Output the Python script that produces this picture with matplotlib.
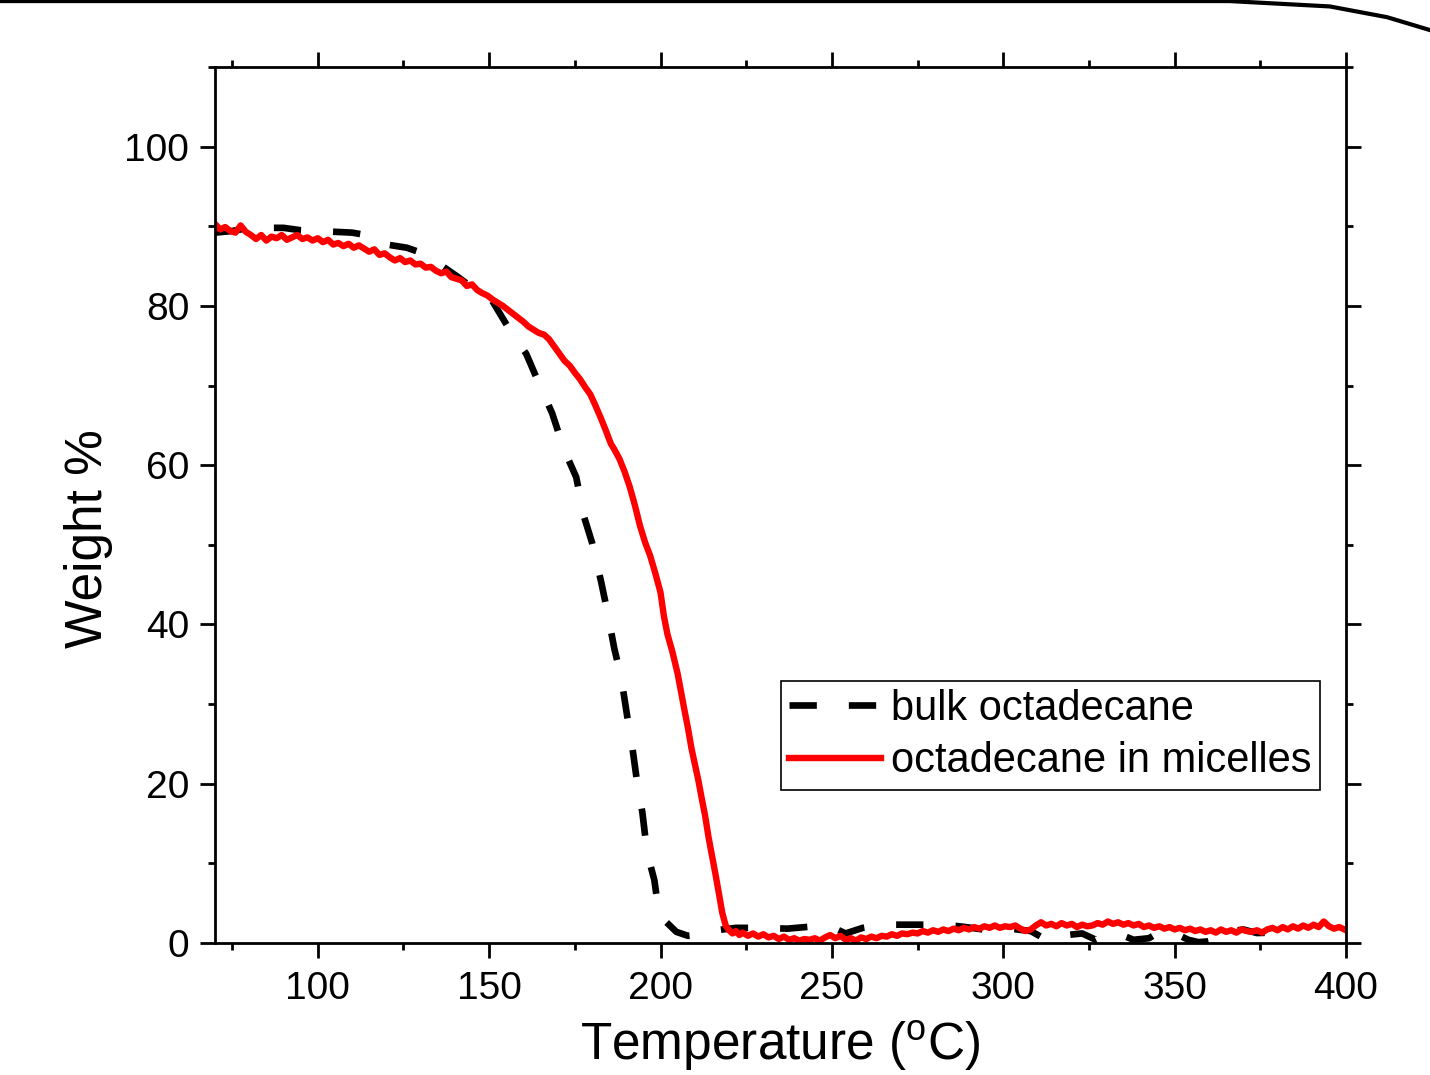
import numpy as np
import matplotlib
matplotlib.use("Agg")
import matplotlib.pyplot as plt
from matplotlib.lines import Line2D

plt.rcParams['font.family'] = ['Liberation Sans', 'DejaVu Sans']
plt.rcParams['mathtext.fontset'] = 'custom'
plt.rcParams['mathtext.rm'] = 'Liberation Sans'

# bulk octadecane (dashed black)
bulk_T = [70, 75, 80, 90, 95, 100, 105, 110, 114, 118.7, 126, 130, 136, 141,
          146, 150.8, 156.4, 160.8, 165, 168.4, 171.9, 175.4, 177.7, 180,
          182.7, 184.4, 186.5, 188.5, 190.3, 191.7, 193.2, 194.7, 196.1, 198.2,
          199.6, 204.6, 208, 210.7, 216.3, 222, 230, 237, 245, 250, 254, 259,
          265, 283, 289, 294, 300, 308, 313, 318.5, 323, 327, 330, 334, 338,
          342.5, 346, 349.6, 354, 357, 359.6, 364, 367, 370, 374, 378, 380, 382]
bulk_W = [89.2, 89.4, 89.8, 89.8, 89.5, 89.4, 89.3, 89.2, 88.9, 87.8, 87.3,
          86.7, 85.1, 83.6, 82.0, 80.7, 76.7, 74.0, 69.8, 66.5, 61.9, 58.5,
          53.5, 50.3, 45.3, 41.8, 37.0, 33.4, 28.4, 24.8, 20.1, 16.4, 11.3,
          7.9, 3.5, 1.4, 0.9, 1.0, 1.6, 1.9, 1.9, 1.8, 2.1, 2.0, 1.2, 1.9,
          2.3, 2.3, 2.0, 1.7, 1.9, 1.5, 0.3, 1.0, 1.2, 0.4, 1.0, 1.1, 0.4,
          0.6, 1.5, 1.3, 0.4, 0.1, 0.2, 0.6, 1.5, 1.7, 1.25, 1.3, 0.8, 0.2]

# octadecane in micelles (solid red)
mic_T = [70, 71.5, 73, 74.5, 76, 77.5, 79, 80.5, 82, 83.5, 85, 86.5, 88, 89.5,
         91, 92.5, 94, 95.5, 97, 98.5, 100, 101.5, 103, 104.5, 106, 107.5, 109,
         110.5, 112, 113.5, 115, 116.5, 118, 119.5, 121, 122.5, 124, 125.5,
         127, 128.5, 130, 131.5, 133, 134.5, 136, 137.5, 139, 140.5, 142,
         143.5, 145, 146.5, 148, 149.5, 151, 152.5, 154, 155.5, 157, 158.5,
         160, 161.5, 163, 164.5, 166, 167.5, 169, 170.5, 172, 173.5, 175,
         176.5, 178, 179.5, 181, 182.5, 184, 185.5, 186.5, 188, 189.5, 191,
         192.5, 194, 195.5, 197, 198.5, 200, 201, 202, 203.5, 205, 206, 207,
         208, 209, 210, 211, 212, 213, 214, 215, 216, 217, 218, 219, 220, 221,
         222, 223, 224, 225.5, 227, 228.5, 230, 231.5, 233, 234.5, 236, 237.5,
         239, 240.5, 242, 243.5, 245, 246.5, 248, 249.5, 251, 252.5, 254,
         255.5, 257, 258.5, 260, 261.5, 263, 264.5, 266, 267.5, 269, 270.5,
         272, 273.5, 275, 276.5, 278, 279.5, 281, 282.5, 284, 285.5, 287,
         288.5, 290, 291.5, 293, 294.5, 296, 297.5, 299, 300.5, 302, 303.5,
         305, 306.5, 308, 309.5, 311, 312.5, 314, 315.5, 317, 318.5, 320,
         321.5, 323, 324.5, 326, 327.5, 329, 330.5, 332, 333.5, 335, 336.5,
         338, 339.5, 341, 342.5, 344, 345.5, 347, 348.5, 350, 351.5, 353,
         354.5, 356, 357.5, 359, 360.5, 362, 363.5, 365, 366.5, 368, 369.5,
         371, 372.5, 374, 375.5, 377, 378.5, 380, 381.5, 383, 384.5, 386,
         387.5, 389, 390.5, 392, 393.5, 395, 396.5, 398, 399.5]
mic_W = [90.3, 89.6, 89.9, 89.4, 89.2, 90.1, 89.3, 88.9, 88.4, 88.9, 88.2,
         88.7, 88.5, 88.9, 88.3, 88.6, 88.9, 88.4, 88.6, 88.2, 88.5, 88.0,
         88.3, 87.7, 87.9, 87.5, 87.8, 87.3, 87.6, 87.2, 86.8, 87.1, 86.4,
         86.6, 86.1, 85.7, 86.0, 85.5, 85.7, 85.2, 85.3, 84.8, 84.9, 84.4,
         84.1, 84.3, 83.6, 83.4, 83.2, 82.5, 82.7, 82.0, 81.6, 81.3, 80.8,
         80.4, 80.0, 79.5, 79.0, 78.5, 78.0, 77.4, 77.0, 76.6, 76.4, 75.8,
         74.9, 74.0, 73.1, 72.5, 71.6, 70.8, 69.8, 68.9, 67.5, 66.0, 64.4,
         62.7, 62.0, 60.8, 59.2, 57.3, 55.0, 52.4, 50.3, 48.6, 46.4, 44.0,
         41.0, 38.8, 36.5, 33.8, 31.5, 29.2, 27.0, 24.5, 22.5, 20.5, 18.2,
         16.0, 13.3, 11.0, 8.7, 6.3, 3.8, 2.2, 1.6, 1.2, 1.5, 1.0, 1.3, 0.9,
         1.2, 0.8, 1.1, 0.7, 0.9, 0.5, 0.8, 0.4, 0.6, 0.3, 0.5, 0.4, 0.6,
         0.3, 0.7, 1.0, 0.6, 0.9, 0.4, 0.6, 0.3, 0.7, 0.5, 0.8, 0.6, 0.9,
         0.8, 1.1, 0.9, 1.2, 1.1, 1.3, 1.2, 1.5, 1.3, 1.6, 1.4, 1.7, 1.5,
         1.8, 1.6, 1.9, 1.7, 2.0, 1.8, 2.1, 1.9, 2.2, 1.9, 2.1, 2.0, 2.2,
         1.8, 1.5, 1.7, 2.2, 2.6, 2.2, 2.4, 2.1, 2.5, 2.2, 2.4, 2.0, 2.3,
         2.1, 2.2, 2.5, 2.3, 2.7, 2.4, 2.6, 2.3, 2.5, 2.2, 2.4, 2.0, 2.2,
         1.9, 2.1, 1.8, 2.0, 1.7, 1.9, 1.6, 1.8, 1.5, 1.7, 1.4, 1.6, 1.3,
         1.7, 1.4, 1.6, 1.3, 1.7, 1.5, 1.4, 1.6, 1.3, 1.7, 1.9, 1.6, 2.0,
         1.7, 2.1, 1.8, 2.2, 1.9, 2.3, 2.0, 2.7, 2.1, 1.8, 2.0, 1.7]

fig = plt.figure(figsize=(14.3, 10.75), dpi=100)
ax = fig.add_axes([0.1503, 0.1228, 0.7910, 0.8149])

ax.plot(bulk_T, bulk_W, color="black", lw=4.8, dashes=(4.1, 4.8),
        solid_capstyle="butt", label="bulk octadecane")
ax.plot(mic_T, mic_W, color="red", lw=4.6, label="octadecane in micelles")

ax.set_xlim(70, 400)
ax.set_ylim(0, 110)
ax.set_xticks([100, 150, 200, 250, 300, 350, 400])
ax.set_xticks(np.arange(75, 401, 25), minor=True)
ax.set_yticks([0, 20, 40, 60, 80, 100])
ax.set_yticks(np.arange(0, 111, 10), minor=True)

for s in ax.spines.values():
    s.set_linewidth(2.0)
ax.tick_params(which="both", direction="out", top=True, right=True,
               width=2.0, labelsize=28, pad=8)
ax.tick_params(axis="x", which="both", pad=10)
ax.tick_params(which="major", length=10.5)
ax.tick_params(which="minor", length=5)

ax.set_xlabel("Temperature ($\\mathregular{^o}$C)", fontsize=37)
ax.set_ylabel("Weight %", fontsize=37)
ax.xaxis.set_label_coords(0.5, -0.086)
ax.yaxis.set_label_coords(-0.090, 0.462)

leg = ax.legend(loc="lower right", bbox_to_anchor=(0.977, 0.175),
                borderaxespad=0, fontsize=30, fancybox=False,
                edgecolor="black", framealpha=1, handlelength=2.2,
                handletextpad=0.25, labelspacing=0.3, borderpad=0.2)
leg.get_frame().set_linewidth(1.2)

# border stroke visible along the top of the original picture
fig.add_artist(Line2D([0, 0.86, 0.93, 0.97, 1.0], [0.999, 0.999, 0.994, 0.984, 0.972],
                      transform=fig.transFigure, color="black", lw=3))

fig.savefig("out.png", dpi=100)
